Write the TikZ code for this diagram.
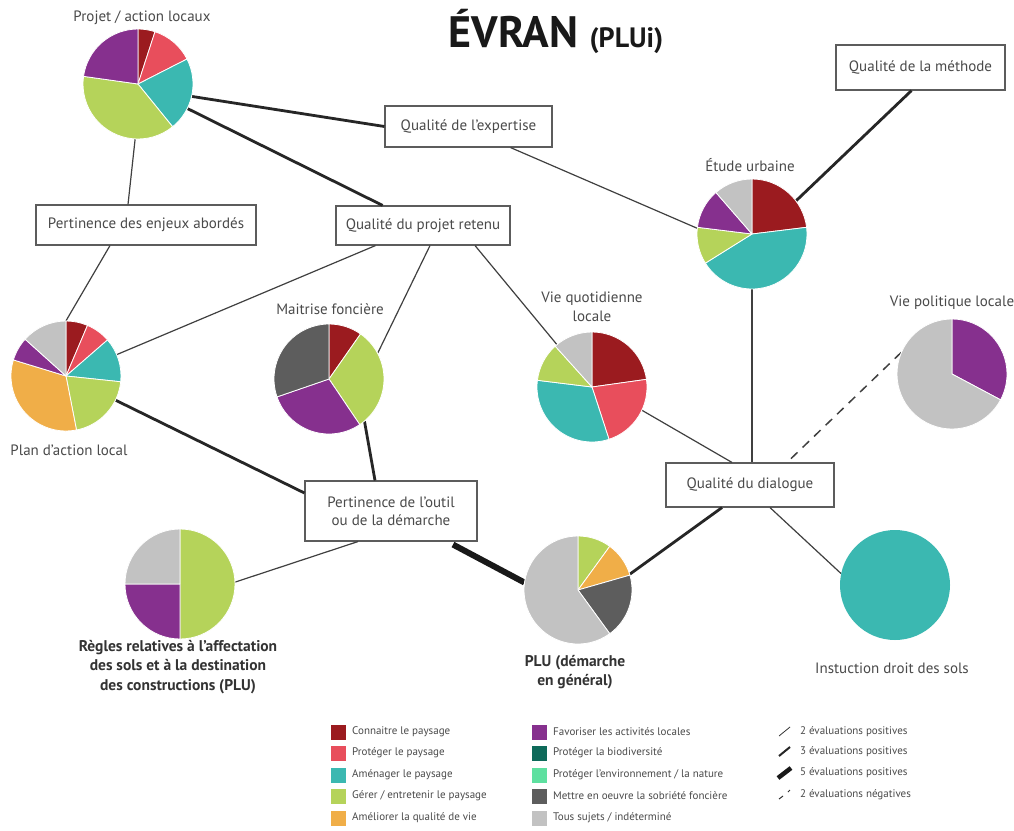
\documentclass[tikz,border=0pt]{standalone}
\usepackage{fontspec}
\setmainfont{PT Sans}
\definecolor{cRed}{HTML}{9B1B1F}
\definecolor{cPink}{HTML}{E84E5C}
\definecolor{cTeal}{HTML}{3BB8B1}
\definecolor{cGreen}{HTML}{B5D35A}
\definecolor{cOrange}{HTML}{F0AE48}
\definecolor{cPurple}{HTML}{86308E}
\definecolor{cDGreen}{HTML}{0E6A5A}
\definecolor{cMint}{HTML}{5EE0A0}
\definecolor{cDGray}{HTML}{5D5D5D}
\definecolor{cLGray}{HTML}{C2C2C2}
\definecolor{txt}{HTML}{4A4A4A}
\newcommand\pslice[5]{\fill[#5,draw=white,line width=0.8pt,line join=round] (#1) -- ++({90-(#2)}:#4pt) arc[start angle={90-(#2)}, end angle={90-(#3)}, radius=#4pt] -- cycle;}
\begin{document}
\begin{tikzpicture}[x=1pt,y=-1pt,
  piebox/.style={circle,minimum size=110pt,inner sep=0pt},
  qbox/.style={draw=txt!90,line width=1.1pt,fill=white,rectangle,inner sep=2pt,text=txt,font=\fontsize{15}{18}\selectfont,align=center},
  plabel/.style={text=txt,font=\fontsize{15}{18}\selectfont,align=center},
  blabel/.style={text=black!80,font=\fontsize{15.5}{19.5}\selectfont\bfseries,align=center},
  ethin/.style={draw=black!75,line width=1.2pt},
  emid/.style={draw=black!85,line width=2.8pt},
  ethick/.style={draw=black!90,line width=6pt},
  eneg/.style={draw=black!75,line width=1.5pt,dash pattern=on 9pt off 7pt},
  legsq/.style={rectangle,minimum size=15pt,inner sep=0pt},
  legtxt/.style={anchor=west,text=txt,font=\fontsize{11}{12}\selectfont,inner sep=0pt}]
\useasboundingbox (0,0) rectangle (1014,830);
\fill[white] (0,0) rectangle (1014,830);

% title
\node[anchor=base,text=black!90,inner sep=0pt] (title) at (556,47) {\fontsize{44}{44}\selectfont\bfseries ÉVRAN \fontsize{28}{28}\selectfont(PLUi)};

% boxes
\node[qbox,minimum width=169pt,minimum height=45pt] (bMeth) at (920.5,67.5) {Qualité de la méthode};
\node[qbox,minimum width=167pt,minimum height=41pt] (bExp) at (468.5,126.5) {Qualité de l’expertise};
\node[qbox,minimum width=220pt,minimum height=40pt] (bEnj) at (146,225) {Pertinence des enjeux abordés};
\node[qbox,minimum width=174pt,minimum height=39pt] (bProj) at (423,225.5) {Qualité du projet retenu};
\node[qbox,minimum width=172pt,minimum height=60pt] (bOut) at (391,511) {Pertinence de l’outil\\ou de la démarche};
\node[qbox,minimum width=168pt,minimum height=44pt] (bDia) at (750,485) {Qualité du dialogue};

% pie holders
\node[piebox] (pA) at (138,84) {};
\node[piebox] (pB) at (66,376) {};
\node[piebox] (pC) at (329,379) {};
\node[piebox] (pD) at (592,387) {};
\node[piebox] (pE) at (752,234) {};
\node[piebox] (pF) at (952,374) {};
\node[piebox] (pG) at (180,584) {};
\node[piebox,minimum size=108pt] (pH) at (578,590) {};
\node[piebox] (pI) at (895,585) {};

% connectors
\draw[emid] (pA.-13) -- (bExp.west);
\draw[emid] (pA) -- (bProj);
\draw[ethin] (pA.-93) -- ([xshift=-18pt]bEnj.north);
\draw[ethin] ([xshift=-36pt]bEnj.south) -- (pB.north);
\draw[ethin] (bProj) -- (pB);
\draw[ethin] ([xshift=7pt]bProj.south) -- (pC.28);
\draw[ethin] ([xshift=52pt]bProj.south) -- (pD);
\draw[ethin] ([xshift=42pt]bExp.south) -- (pE.174);
\draw[emid] ([xshift=-9pt]bMeth.south) -- (pE.37);
\draw[ethin] (pE.south) -- ([xshift=2pt]bDia.north);
\draw[ethin] (pD.-25) -- ([xshift=-18pt]bDia.north);
\draw[eneg] (pF.157) -- ([xshift=37pt]bDia.north);
\draw[emid] ([xshift=-28pt]bDia.south) -- (pH.17);
\draw[ethin] ([xshift=20pt]bDia.south) -- (pI.168);
\draw[emid] (pB.-26) -- ([yshift=18pt]bOut.west);
\draw[emid] (pC.-50) -- ([xshift=-16pt]bOut.north);
\draw[ethick] ([xshift=62pt,yshift=-3pt]bOut.south) -- (pH.172);
\draw[ethin] (pG.2) -- ([xshift=-33pt]bOut.south);

% pies
\pslice{pA.center}{0}{18}{55}{cRed}
\pslice{pA.center}{18}{63}{55}{cPink}
\pslice{pA.center}{63}{141}{55}{cTeal}
\pslice{pA.center}{141}{278}{55}{cGreen}
\pslice{pA.center}{278}{360}{55}{cPurple}

\pslice{pB.center}{0}{23}{55}{cRed}
\pslice{pB.center}{23}{49}{55}{cPink}
\pslice{pB.center}{49}{96}{55}{cTeal}
\pslice{pB.center}{96}{169}{55}{cGreen}
\pslice{pB.center}{169}{287}{55}{cOrange}
\pslice{pB.center}{287}{312}{55}{cPurple}
\pslice{pB.center}{312}{360}{55}{cLGray}

\pslice{pC.center}{0}{35}{55}{cRed}
\pslice{pC.center}{35}{146}{55}{cGreen}
\pslice{pC.center}{146}{251}{55}{cPurple}
\pslice{pC.center}{251}{360}{55}{cDGray}

\pslice{pD.center}{0}{82}{55}{cRed}
\pslice{pD.center}{82}{162}{55}{cPink}
\pslice{pD.center}{162}{277}{55}{cTeal}
\pslice{pD.center}{277}{318}{55}{cGreen}
\pslice{pD.center}{318}{360}{55}{cLGray}

\pslice{pE.center}{0}{83}{55}{cRed}
\pslice{pE.center}{83}{238}{55}{cTeal}
\pslice{pE.center}{238}{277}{55}{cGreen}
\pslice{pE.center}{277}{319}{55}{cPurple}
\pslice{pE.center}{319}{360}{55}{cLGray}

\pslice{pF.center}{0}{118}{55}{cPurple}
\pslice{pF.center}{118}{360}{55}{cLGray}

\pslice{pG.center}{0}{180}{55}{cGreen}
\pslice{pG.center}{180}{270}{55}{cPurple}
\pslice{pG.center}{270}{360}{55}{cLGray}

\pslice{pH.center}{0}{36}{54}{cGreen}
\pslice{pH.center}{36}{74}{54}{cOrange}
\pslice{pH.center}{74}{144}{54}{cDGray}
\pslice{pH.center}{144}{360}{54}{cLGray}

\fill[cTeal] (pI.center) circle[radius=55pt];

% pie labels
\node[plabel] (lA) at (142,18) {Projet / action locaux};
\node[plabel] (lB) at (69,450) {Plan d’action local};
\node[plabel] (lC) at (330,309) {Maitrise foncière};
\node[plabel,font=\fontsize{15}{19}\selectfont] (lD) at (592,307) {Vie quotidienne\\locale};
\node[plabel] (lE) at (750,165) {Étude urbaine};
\node[plabel] (lF) at (952,303) {Vie politique locale};
\node[blabel] (lG) at (178,667) {Règles relatives à l’affectation\\des sols et à la destination\\des constructions (PLU)};
\node[blabel] (lH) at (575,672) {PLU (démarche\\en général)};
\node[plabel] (lI) at (892,668) {Instuction droit des sols};

% legend
\foreach \c/\t/\y [count=\i] in {cRed/{Connaitre le paysage}/732, cPink/{Protéger le paysage}/753, cTeal/{Aménager le paysage}/775, cGreen/{Gérer / entretenir le paysage}/796, cOrange/{Améliorer la qualité de vie}/818}{
  \node[legsq,fill=\c] (lsq\i) at (338,\y) {};
  \node[legtxt] (ltx\i) at (352,\y) {\t};
}
\foreach \c/\t/\y [count=\i] in {cPurple/{Favoriser les activités locales}/732, cDGreen/{Protéger la biodiversité}/753, cMint/{Protéger l’environnement / la nature}/775, cDGray/{Mettre en oeuvre la sobriété foncière}/796, cLGray/{Tous sujets / indéterminé}/818}{
  \node[legsq,fill=\c] (lsqb\i) at (539,\y) {};
  \node[legtxt] (ltxb\i) at (553,\y) {\t};
}
\draw[black!80,line width=0.8pt] (779,736) -- (790,727);
\draw[black!85,line width=2pt] (779,756) -- (790,747);
\draw[black!90,line width=4.5pt] (778,778) -- (791,768);
\draw[black!80,line width=1pt] (779,799) -- (783,796);
\draw[black!80,line width=1pt] (788,792) -- (790,790);
\node[legtxt] (lw1) at (800,732) {2 évaluations positives};
\node[legtxt] (lw2) at (800,752) {3 évaluations positives};
\node[legtxt] (lw3) at (800,773) {5 évaluations positives};
\node[legtxt] (lw4) at (800,795) {2 évaluations négatives};
\end{tikzpicture}
\end{document}
